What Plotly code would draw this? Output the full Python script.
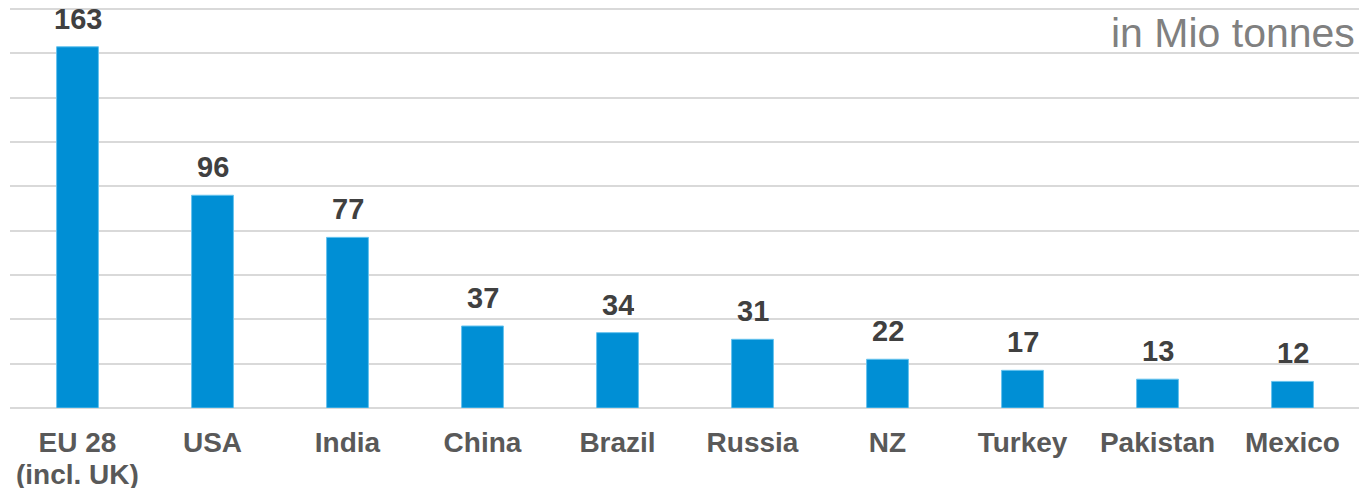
import plotly.graph_objects as go

categories = ["EU 28<br>(incl. UK)", "USA", "India", "China", "Brazil", "Russia", "NZ", "Turkey", "Pakistan", "Mexico"]
values = [163, 96, 77, 37, 34, 31, 22, 17, 13, 12]
unit_label = "in Mio tonnes"

FONT = "Liberation Sans, Arial"

fig = go.Figure()
fig.add_trace(go.Bar(
    x=categories, y=values,
    marker=dict(color="#008FD5", line=dict(color="#66C3EE", width=1)),
    width=0.31,
    hoverinfo="y",
))

# value labels
for c, v in zip(categories, values):
    fig.add_annotation(x=c, y=v, text=f"<b>{v}</b>", showarrow=False,
                       yanchor="bottom", yshift=12, height=28, valign="middle",
                       font=dict(family=FONT, size=29, color="#404040"))

# category labels: first line as tick label, further lines as tighter-spaced text
first_lines = [c.split("<br>")[0] for c in categories]
for c in categories:
    extra = c.split("<br>")[1:]
    for i, line in enumerate(extra):
        fig.add_annotation(x=c, xref="x", yref="paper", y=0, yanchor="top",
                           yshift=-50 - 31 * i, height=28, valign="middle",
                           text=f"<b>{line}</b>", showarrow=False,
                           font=dict(family=FONT, size=28, color="#595959"))

fig.add_annotation(xref="paper", yref="paper", x=1, y=1, xanchor="right", yanchor="top",
                   xshift=-3, yshift=0, text=unit_label, showarrow=False,
                   font=dict(family=FONT, size=41, color="#808080"))

# page body has an 8px margin, so the figure is sized to the visible area
fig.update_layout(
    width=1359, height=484,
    margin=dict(l=2, r=7, t=0, b=84, autoexpand=False),
    plot_bgcolor="white", paper_bgcolor="white",
    showlegend=False,
    font=dict(family=FONT),
    xaxis=dict(
        tickmode="array", tickvals=categories,
        ticktext=[f"<b>{t}</b>" for t in first_lines],
        tickfont=dict(family=FONT, size=28, color="#595959"),
        showgrid=False, showline=False, zeroline=False, ticks="",
        ticklabelstandoff=15, automargin=False,
    ),
    yaxis=dict(
        range=[0, 180.5], dtick=20, showticklabels=False,
        showgrid=True, gridcolor="#D9D9D9", gridwidth=1.5,
        zeroline=True, zerolinecolor="#D9D9D9", zerolinewidth=1.5,
        showline=False, ticks="", automargin=False,
    ),
)

fig.write_html("out.html")
